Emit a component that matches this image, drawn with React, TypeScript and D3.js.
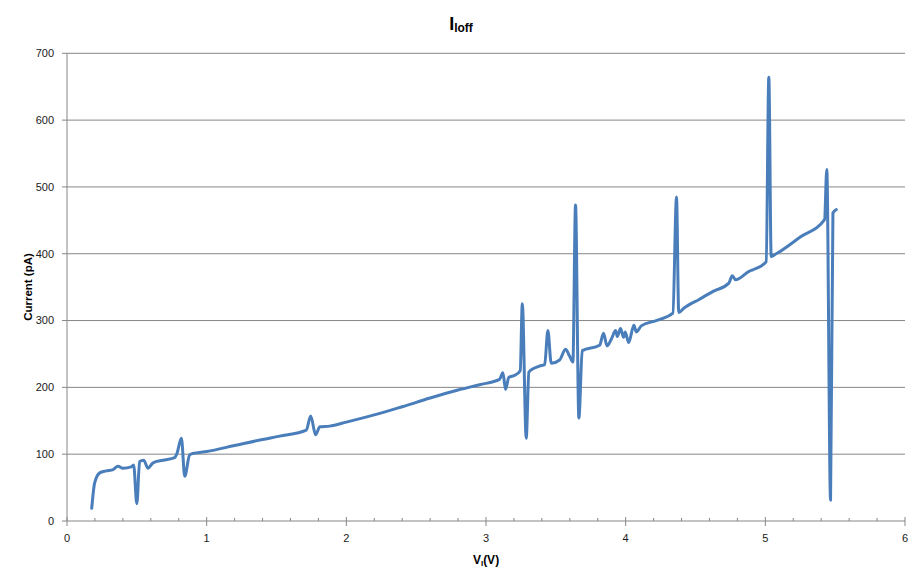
import React from "react";
import * as d3 from "d3";

const voltage = [0.177,0.198,0.234,0.28,0.33,0.365,0.40,0.46,0.477,0.50,0.52,0.549,0.58,0.616,0.687,0.771,0.787,0.819,0.843,0.878,0.90,1.0,1.2,1.4,1.523,1.713,1.745,1.78,1.81,1.88,2.0,2.24,2.4,2.6,2.8,2.954,3.097,3.121,3.14,3.164,3.205,3.245,3.26,3.288,3.307,3.348,3.384,3.42,3.443,3.467,3.527,3.57,3.598,3.622,3.641,3.665,3.689,3.813,3.842,3.866,3.897,3.928,3.94,3.963,3.985,3.997,4.021,4.059,4.076,4.112,4.219,4.338,4.364,4.38,4.414,4.529,4.63,4.739,4.763,4.787,4.887,4.911,5.006,5.025,5.042,5.078,5.25,5.424,5.44,5.467,5.484,5.508];
const current = [19,57,72,75,77,82,79,81,84,26,89,91,79,87,91,95,101,124,67,99,101,104,113,122,127,136,157,129,141,142,148,161,171,184,196,204,212,222,197,215,218,225,325,124,223,229,232,234,285,236,241,257,247,238,473,154,255,263,281,262,272,285,276,288,275,283,267,293,283,292,300,311,485,312,318,332,344,356,367,361,374,376,388,664,396,400,425,451,526,31,461,466];

const xTicks = [0, 1, 2, 3, 4, 5, 6];
const yTicks = [0, 100, 200, 300, 400, 500, 600, 700];

const W = 920, H = 578;
const left = 67, right = 905, top = 53.3, bottom = 521;

export default function App() {
  const x = d3.scaleLinear().domain([0, 6]).range([left, right]);
  const y = d3.scaleLinear().domain([0, 700]).range([bottom, top]);
  const pts: [number, number][] = voltage.map((v, i) => [v, current[i]]);
  const line = d3.line<[number, number]>()
    .x(d => x(d[0]))
    .y(d => y(d[1]))
    .curve(d3.curveMonotoneX);
  const minor = d3.range(0, 6.001, 0.2).filter(v => Math.abs(v - Math.round(v)) > 1e-6);
  const grid = "#868686";
  const font = "'Liberation Sans', Arial, sans-serif";
  return (
    <svg width={W} height={H} style={{ position: "absolute", left: 0, top: 0, background: "#fff" }}>
      <rect x={0} y={0} width={W} height={H} fill="#fff" />
      {yTicks.filter(t => t > 0).map(t => (
        <line key={"g" + t} x1={left} x2={right} y1={y(t)} y2={y(t)} stroke={grid} strokeWidth={1} />
      ))}
      {yTicks.map(t => (
        <g key={"yt" + t}>
          <line x1={left - 5} x2={left} y1={y(t)} y2={y(t)} stroke={grid} strokeWidth={1} />
          <text x={54} y={y(t)} dy="0.35em" textAnchor="end" fontFamily={font} fontSize={11} fill="#1a1a1a">{t}</text>
        </g>
      ))}
      <line x1={left} x2={left} y1={top} y2={bottom} stroke={grid} strokeWidth={1} />
      <line x1={left} x2={right} y1={bottom} y2={bottom} stroke={grid} strokeWidth={1} />
      {xTicks.map(t => (
        <g key={"xt" + t}>
          <line x1={x(t)} x2={x(t)} y1={bottom - 4} y2={bottom + 5} stroke={grid} strokeWidth={1} />
          <text x={x(t)} y={538} dy="0.35em" textAnchor="middle" fontFamily={font} fontSize={11} fill="#1a1a1a">{t}</text>
        </g>
      ))}
      {minor.map(t => (
        <line key={"m" + t} x1={x(t)} x2={x(t)} y1={bottom - 3} y2={bottom} stroke={grid} strokeWidth={1} />
      ))}
      <path d={line(pts) || ""} fill="none" stroke="#4a7ebb" strokeWidth={3} strokeLinejoin="round" strokeLinecap="round" />
      <text x={461} y={29.5} textAnchor="middle" fontFamily={font} fontWeight="bold" fill="#000">
        <tspan fontSize={18}>I</tspan>
        <tspan fontSize={12} dy={2}>loff</tspan>
      </text>
      <text x={486} y={564} textAnchor="middle" fontFamily={font} fontWeight="bold" fontSize={12} fill="#000">
        <tspan>V</tspan>
        <tspan fontSize={8} dy={2}>I</tspan>
        <tspan dy={-2}>(V)</tspan>
      </text>
      <text transform={`translate(32,287) rotate(-90)`} textAnchor="middle" fontFamily={font} fontWeight="bold" fontSize={11.5} fill="#000">Current (pA)</text>
    </svg>
  );
}
